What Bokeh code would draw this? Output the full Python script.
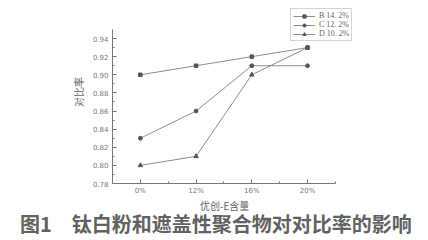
from bokeh.plotting import figure
from bokeh.layouts import column
from bokeh.models import FixedTicker, Legend, LegendItem, Div, CustomJSTickFormatter, PrintfTickFormatter
from bokeh.embed import file_html
from bokeh.resources import INLINE

categories = ["0%", "12%", "16%", "20%"]
series_names = ["B 14. 2%", "C 12. 2%", "D 10. 2%"]
b_values = [0.90, 0.91, 0.92, 0.93]
c_values = [0.83, 0.86, 0.91, 0.91]
d_values = [0.80, 0.81, 0.90, 0.93]
y_ticks = [0.78, 0.80, 0.82, 0.84, 0.86, 0.88, 0.90, 0.92, 0.94]
x_title = "优创-E含量"
y_title = "对比率"
caption = "图1\u3000钛白粉和遮盖性聚合物对对比率的影响"

xs = list(range(len(categories)))

p = figure(width=428, height=197, output_backend="svg", toolbar_location=None,
           x_range=(-0.5, 4.04), y_range=(0.78, 0.982),
           min_border_left=112, min_border_right=63, min_border_top=0, min_border_bottom=13)
p.outline_line_color = None
p.xgrid.visible = False
p.ygrid.visible = False
p.background_fill_color = "white"
p.border_fill_color = "white"

line_col = "#8e8e8e"
mark_col = "#555555"
text_col = "#7a7a7a"

renderers = []
for vals, marker, sz in zip([b_values, c_values, d_values], ["square", "circle", "triangle"], [3.5, 3.8, 4.5]):
    l = p.line(xs, vals, line_color=line_col, line_width=1.0)
    m = p.scatter(xs, vals, marker=marker, size=sz, fill_color=mark_col, line_color=mark_col)
    renderers.append([l, m])

# axes
p.xaxis.ticker = FixedTicker(ticks=xs, minor_ticks=[-0.5, 0.5, 1.5, 2.5, 3.5])
labels_js = "const labs = %s; return labs[Math.round(tick)] || '';" % str(categories)
p.xaxis.formatter = CustomJSTickFormatter(code=labels_js)
p.xaxis.bounds = (-0.5, 3.5)
p.yaxis.ticker = FixedTicker(ticks=y_ticks, minor_ticks=[0.78 + 0.01 * i for i in range(17)])
p.yaxis.formatter = PrintfTickFormatter(format="%.2f")
p.yaxis.bounds = (0.78, 0.95)
for ax in [p.xaxis[0], p.yaxis[0]]:
    ax.axis_line_color = "#777777"
    ax.major_tick_line_color = "#777777"
    ax.minor_tick_line_color = "#777777"
    ax.major_tick_in = 4
    ax.major_tick_out = 0
    ax.minor_tick_in = 2
    ax.minor_tick_out = 0
    ax.major_label_text_font_size = "7px"
    ax.major_label_text_color = text_col
    ax.major_label_text_font = "DejaVu Sans"
    ax.axis_label_text_font = "Noto Sans CJK SC"
    ax.axis_label_text_font_style = "normal"
    ax.axis_label_text_color = "#666666"
    ax.axis_label_text_font_size = "10px"

p.yaxis.axis_label = y_title
p.yaxis.major_label_standoff = 4
p.yaxis.axis_label_standoff = 4
p.xaxis.major_label_standoff = 3

legend = Legend(items=[LegendItem(label=n, renderers=r) for n, r in zip(series_names, renderers)],
                location=(178, 142), label_text_font="Liberation Serif", label_text_font_size="8px",
                label_text_color="#666666", glyph_width=22, glyph_height=8, label_height=8,
                spacing=0, padding=2, margin=0, border_line_color="#aaaaaa", border_line_width=1,
                background_fill_color="white", label_standoff=4)
p.add_layout(legend)

html = (
    "<div style=\"font-family:'Noto Sans CJK SC';font-size:10px;color:#666666;line-height:13px;"
    "height:13px;padding-top:2px;padding-left:200px;white-space:nowrap;\">%s</div>"
    "<div style=\"font-family:'Noto Sans CJK SC';font-size:20px;font-weight:bold;color:#626262;"
    "line-height:22px;height:22px;padding-top:3px;padding-left:20px;white-space:nowrap;\">%s</div>"
) % (x_title, caption)
cap = Div(text=html, width=428, height=43, margin=0, styles={"background-color": "white"})

layout = column(p, cap, spacing=0)
open("out.html", "w").write(file_html(layout, INLINE))
